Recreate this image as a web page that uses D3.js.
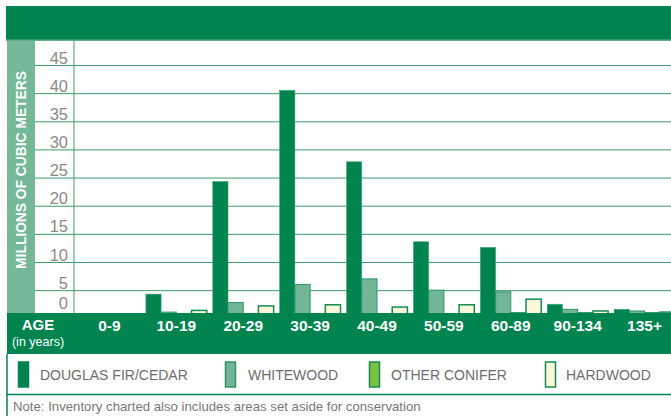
<!DOCTYPE html>
<head>
  <meta charset="utf-8">
  <style>
    body { margin: 0; background: #fff; }
    svg text { font-family: "Liberation Sans", Arial, sans-serif; }
    svg .grid line { stroke: #3c9b6d; stroke-width: 1px; }
    svg .tick text { font-size: 16.5px; fill: #8a8a8a; }
  </style>
</head>
<body>
<script src="https://d3js.org/d3.v7.min.js"></script>
<script>
  // chart data (millions of cubic meters)
  var ageGroups = ["0-9", "10-19", "20-29", "30-39", "40-49", "50-59", "60-89", "90-134", "135+"];
  var seriesNames = ["DOUGLAS FIR/CEDAR", "WHITEWOOD", "OTHER CONIFER", "HARDWOOD"];
  var douglasFir   = [0, 4.3, 24.3, 40.5, 27.8, 13.6, 12.6, 2.5, 1.6];
  var whitewood    = [0, 1.1, 2.8, 6.0, 7.0, 5.0, 4.7, 1.6, 1.3];
  var otherConifer = [0, 0.4, 0.6, 0.6, 0.8, 0.8, 1.0, 1.0, 1.0];
  var hardwood     = [0, 1.4, 2.2, 2.4, 2.0, 2.4, 3.4, 1.3, 1.1];
  var yTicks = [0, 5, 10, 15, 20, 25, 30, 35, 40, 45];

  var seriesValues = [douglasFir, whitewood, otherConifer, hardwood];
  var fills   = ["#00844f", "#72b597", "#7cc143", "#fdf6d8"];
  var strokes = ["#3fa677", "#2c9465", "#138a56", "#138a56"];
  var strokeW = [0.6, 1, 1, 1.5];

  var W = 671, H = 416,
      dark = "#00844f",
      light = "#74b799";

  var svg = d3.select("body").append("svg")
      .attr("width", W)
      .attr("height", H);

  // scales
  var x0 = d3.scaleBand().domain(ageGroups).range([79, 675]).paddingInner(0.09).paddingOuter(0);
  var x1 = d3.scaleBand().domain(d3.range(4)).range([0, x0.bandwidth()]);
  var y  = d3.scaleLinear().domain([0, 45]).range([318.3, 65]);

  // left strip behind y title
  svg.append("rect")
      .attr("x", 7).attr("y", 40).attr("width", 28).attr("height", 273)
      .style("fill", light);

  // grid lines + tick labels
  var yAxis = d3.axisLeft(y).tickValues(yTicks).tickSize(0).tickPadding(6);
  var ga = svg.append("g")
      .classed("grid", true)
      .attr("transform", "translate(74,0)")
      .call(yAxis);
  ga.select(".domain").remove();
  ga.selectAll(".tick line")
      .attr("x1", 35 - 74)
      .attr("x2", W - 74);
  ga.selectAll(".tick text")
      .attr("dy", 0)
      .attr("y", function (d) { return d === 0 ? -10 : -2; });

  // bars
  var groups = svg.append("g").selectAll("g")
    .data(ageGroups)
    .enter().append("g")
      .attr("transform", function (d) { return "translate(" + x0(d) + ",0)"; });

  groups.selectAll("rect")
    .data(function (d, i) { return seriesValues.map(function (s, k) { return { k: k, v: s[i] }; }); })
    .enter().append("rect")
      .attr("x", function (d) { return x1(d.k); })
      .attr("width", x1.bandwidth())
      .attr("y", function (d) { return y(d.v); })
      .attr("height", function (d) { return y(0) - y(d.v); })
      .style("fill", function (d) { return fills[d.k]; })
      .style("stroke", function (d) { return strokes[d.k]; })
      .style("stroke-width", function (d) { return strokeW[d.k]; });

  // vertical axis line
  svg.append("line")
      .attr("x1", 74).attr("x2", 74).attr("y1", 40).attr("y2", 313)
      .style("stroke", "#3c9b6d").style("stroke-width", 1);

  // header band
  svg.append("rect")
      .attr("x", 6).attr("y", 6).attr("width", W - 6).attr("height", 34)
      .style("fill", dark);
  svg.append("rect")
      .attr("x", 6).attr("y", 39.5).attr("width", W - 6).attr("height", 1.5)
      .style("fill", "#5fae88");

  // bottom age band
  svg.append("rect")
      .attr("x", 7).attr("y", 313).attr("width", W - 7).attr("height", 41)
      .style("fill", dark);

  svg.append("g").selectAll("text")
    .data(ageGroups)
    .enter().append("text")
      .attr("x", function (d) { return x0(d) + x0.bandwidth() / 2; })
      .attr("y", 330.5)
      .text(function (d) { return d; })
      .style("text-anchor", "middle")
      .style("font-size", "15.5px")
      .style("font-weight", "bold")
      .style("fill", "#fff");

  svg.append("text")
      .attr("x", 38).attr("y", 329.5)
      .text("AGE")
      .style("text-anchor", "middle")
      .style("font-size", "15px")
      .style("font-weight", "bold")
      .style("fill", "#fff");

  svg.append("text")
      .attr("x", 38).attr("y", 346)
      .text("(in years)")
      .style("text-anchor", "middle")
      .style("font-size", "12.5px")
      .style("fill", "#fff");

  // y title
  svg.append("text")
      .attr("transform", "translate(21,170) rotate(-90)")
      .text("MILLIONS OF CUBIC METERS")
      .style("text-anchor", "middle")
      .style("dominant-baseline", "central")
      .style("font-size", "13.8px")
      .style("font-weight", "bold")
      .style("fill", "#fff");

  // legend box lines
  svg.append("line")
      .attr("x1", 7).attr("x2", 7).attr("y1", 354).attr("y2", H)
      .style("stroke", dark).style("stroke-width", 1.5);
  svg.append("line")
      .attr("x1", 7).attr("x2", W).attr("y1", 394.5).attr("y2", 394.5)
      .style("stroke", dark).style("stroke-width", 1.5);

  var legendSwatchX = [18, 225, 369, 545];
  var legendTextX = [40, 248, 391, 566];

  var legend = svg.append("g").selectAll("g")
    .data(seriesNames)
    .enter().append("g");

  legend.append("rect")
      .attr("x", function (d, i) { return legendSwatchX[i] + 0.5; })
      .attr("y", 362)
      .attr("width", 10)
      .attr("height", 25)
      .style("fill", function (d, i) { return fills[i]; })
      .style("stroke", function (d, i) { return i === 0 ? fills[0] : strokes[i]; })
      .style("stroke-width", 1.5);

  legend.append("text")
      .attr("x", function (d, i) { return legendTextX[i]; })
      .attr("y", 380)
      .text(function (d) { return d; })
      .style("font-size", "14px")
      .style("fill", "#6d6d6d");

  svg.append("text")
      .attr("x", 13).attr("y", 411)
      .text("Note: Inventory charted also includes areas set aside for conservation")
      .style("font-size", "13.2px")
      .style("fill", "#777");
</script>
</body>
</html>
